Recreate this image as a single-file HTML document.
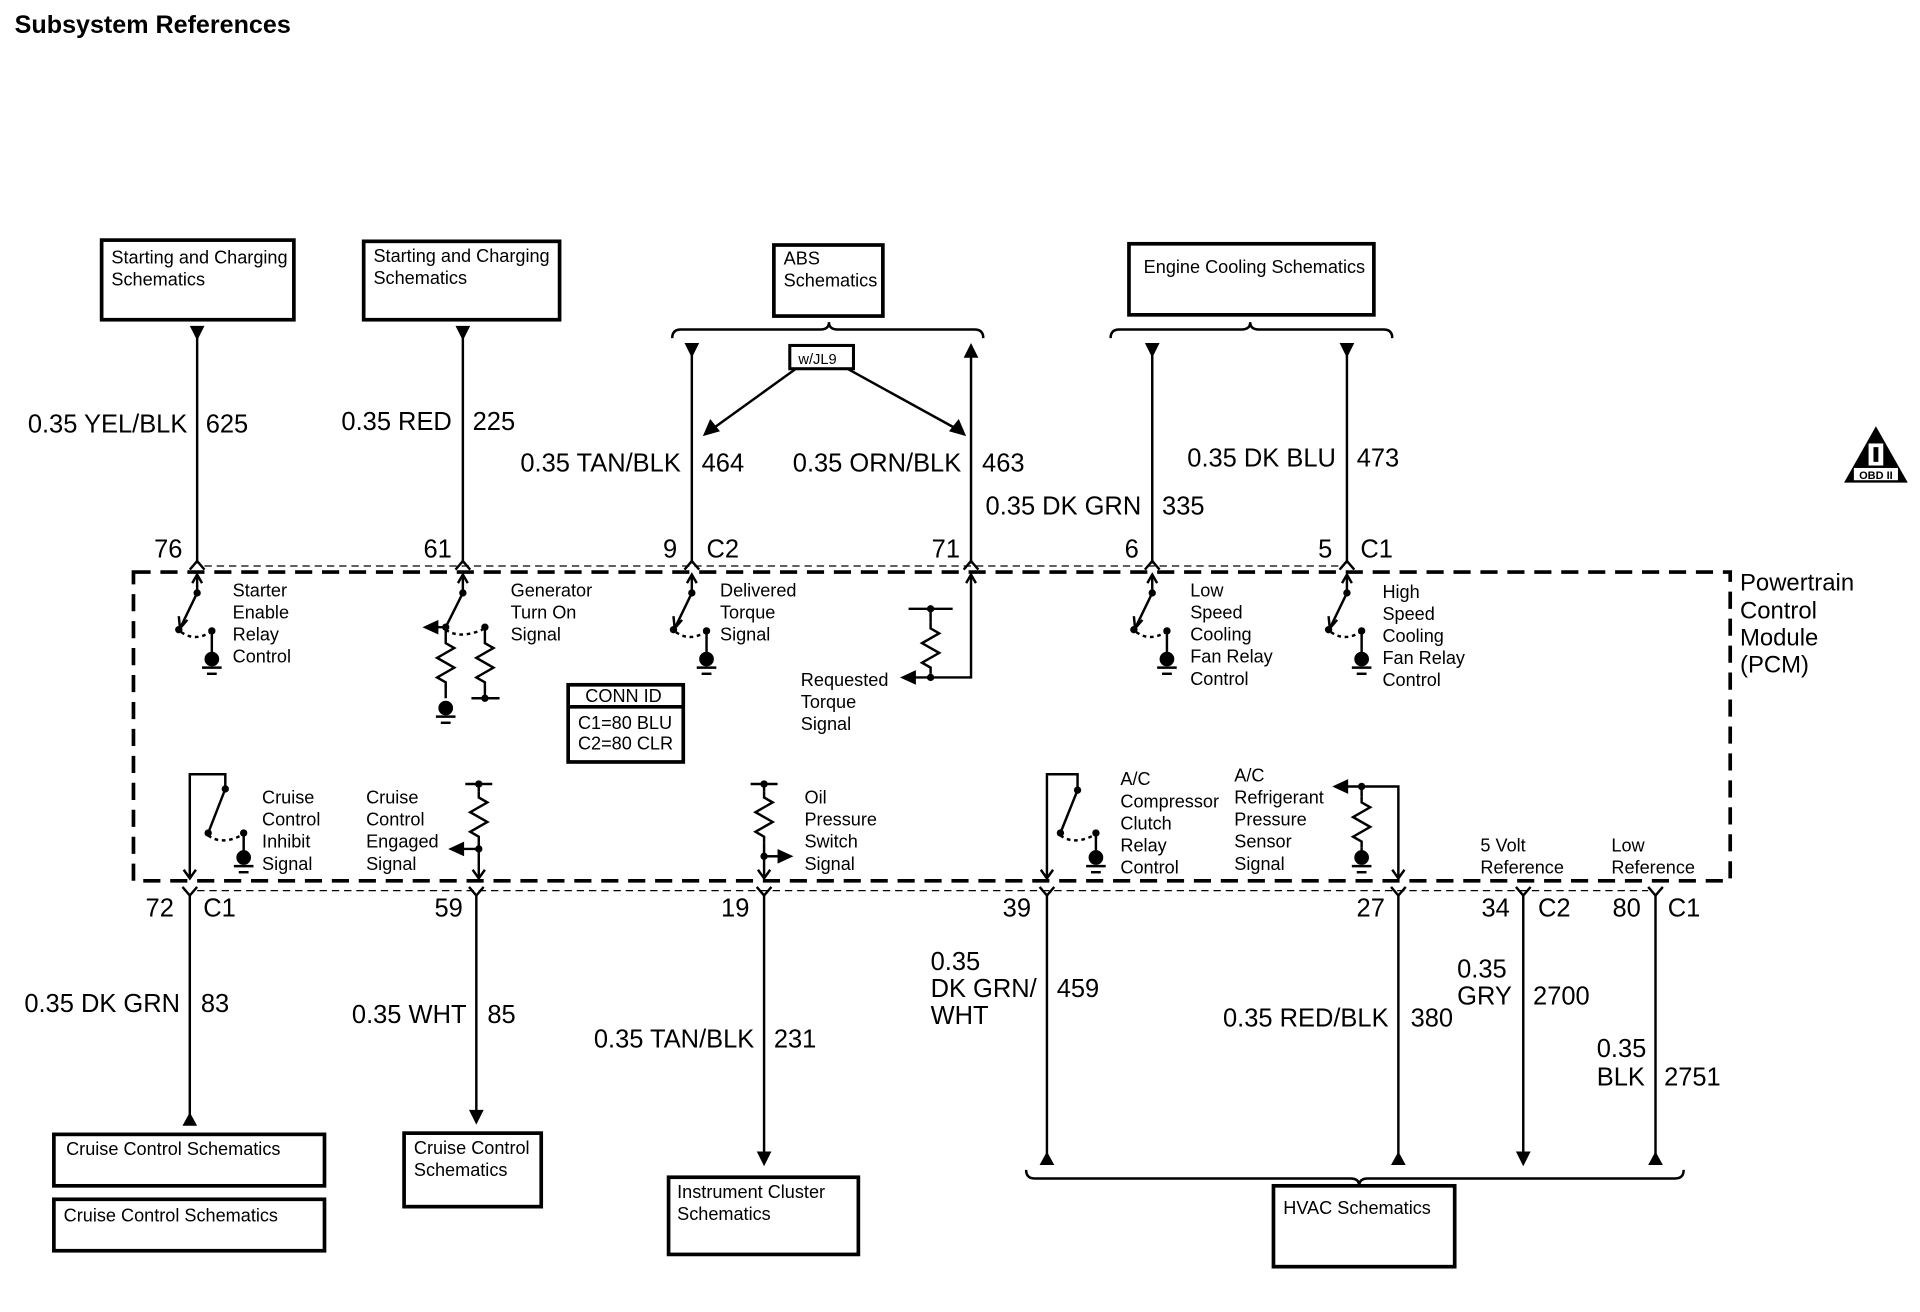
<!DOCTYPE html>
<html><head><meta charset="utf-8"><style>
html,body{margin:0;padding:0;background:#fff}
svg{display:block}
text{font-family:"Liberation Sans",Arial,sans-serif;fill:#000}
.s{font-size:14.8px}
.l{font-size:20.8px}
</style></head><body>
<svg width="1920" height="1312" viewBox="0 0 1568 1071" preserveAspectRatio="none" xmlns="http://www.w3.org/2000/svg">
<defs>
<g id="sw" stroke="#000" stroke-width="2" fill="none">
<polyline points="-4,9 0,2 4,9"/><line x1="0" y1="2" x2="0" y2="17"/>
<line x1="0" y1="17" x2="-14" y2="46"/><polyline points="-15,36 -14,46 -8,39"/>
<path d="M-13,49 Q-2,57 11,49" stroke-dasharray="3,3"/>
<line x1="12" y1="48" x2="12" y2="66"/>
<circle cx="0" cy="17" r="3" fill="#000" stroke="none"/>
<circle cx="-15" cy="47" r="3" fill="#000" stroke="none"/>
<circle cx="12" cy="48" r="3" fill="#000" stroke="none"/>
<circle cx="12" cy="71" r="6" fill="#000" stroke="none"/>
<line x1="4" y1="78" x2="20" y2="78"/><line x1="8" y1="83" x2="16" y2="83"/>
</g>
<path id="rz" d="M0,0 l0,5 l7,4 l-14,8 l14,8 l-14,8 l7,4 l0,5" stroke="#000" stroke-width="2" fill="none"/>
<g id="gnd" stroke="#000" stroke-width="2"><circle cx="0" cy="0" r="6" fill="#000" stroke="none"/><line x1="-8" y1="7" x2="8" y2="7"/><line x1="-4" y1="12" x2="4" y2="12"/></g>
</defs>

<text x="12" y="27" style="font-size:20.5px;font-weight:bold">Subsystem References</text>

<g fill="none" stroke="#000" stroke-width="3">
<rect x="83" y="196" width="157" height="65"/>
<rect x="297" y="197" width="160" height="64"/>
<rect x="632" y="200" width="89" height="58"/>
<rect x="922" y="199" width="200" height="58"/>
<rect x="44" y="926" width="221" height="42"/>
<rect x="44" y="979" width="221" height="42"/>
<rect x="330" y="925" width="112" height="60"/>
<rect x="546" y="961" width="155" height="63"/>
<rect x="1040" y="968" width="148" height="66"/>
<rect x="464" y="559" width="94" height="63"/>
<line x1="464" y1="577" x2="558" y2="577"/>
<rect x="645" y="282" width="52" height="19" stroke-width="2.5"/>
</g>
<g class="s">
<text x="91" y="215">Starting and Charging</text><text x="91" y="233">Schematics</text>
<text x="305" y="214">Starting and Charging</text><text x="305" y="232">Schematics</text>
<text x="640" y="216">ABS</text><text x="640" y="234">Schematics</text>
<text x="934" y="223">Engine Cooling Schematics</text>
<text x="54" y="943">Cruise Control Schematics</text>
<text x="52" y="997">Cruise Control Schematics</text>
<text x="338" y="942">Cruise Control</text><text x="338" y="960">Schematics</text>
<text x="553" y="978">Instrument Cluster</text><text x="553" y="996">Schematics</text>
<text x="1048" y="991">HVAC Schematics</text>
<text x="478" y="573">CONN ID</text><text x="472" y="595">C1=80 BLU</text><text x="472" y="612">C2=80 CLR</text>
<text x="652" y="297" style="font-size:12px">w/JL9</text>
</g>

<g fill="none" stroke="#000" stroke-width="2">
<path d="M549,276 Q549,269 556,269 L670,269 Q677,269 677,263 Q677,269 684,269 L796,269 Q803,269 803,276"/>
<path d="M907,276 Q907,269 914,269 L1014,269 Q1021,269 1021,263 Q1021,269 1028,269 L1130,269 Q1137,269 1137,276"/>
<path d="M838,955 Q838,962 845,962 L1103,962 Q1110,962 1110,968 Q1110,962 1117,962 L1368,962 Q1375,962 1375,955"/>
<line x1="650" y1="301" x2="582" y2="350"/><line x1="692" y1="301" x2="781" y2="350"/>
</g>
<polygon points="574,356 580,342 588,352" fill="#000"/>
<polygon points="789,356 775,352 783,342" fill="#000"/>

<g stroke="#000" stroke-width="2" fill="none">
<line x1="161" y1="268" x2="161" y2="460"/>
<line x1="378" y1="268" x2="378" y2="460"/>
<line x1="565" y1="282" x2="565" y2="460"/>
<line x1="793" y1="282" x2="793" y2="460"/>
<line x1="941" y1="282" x2="941" y2="460"/>
<line x1="1100" y1="282" x2="1100" y2="460"/>
<polyline points="155,465 161,458 167,465"/>
<polyline points="372,465 378,458 384,465"/>
<polyline points="559,465 565,458 571,465"/>
<polyline points="787,465 793,458 799,465"/>
<polyline points="935,465 941,458 947,465"/>
<polyline points="1094,465 1100,458 1106,465"/>
<line x1="167" y1="462" x2="1094" y2="462" stroke-width="1" stroke-dasharray="6,4"/>
<line x1="155" y1="731" x2="155" y2="915"/>
<line x1="389" y1="731" x2="389" y2="910"/>
<line x1="624" y1="731" x2="624" y2="943"/>
<line x1="855" y1="731" x2="855" y2="945"/>
<line x1="1142" y1="731" x2="1142" y2="945"/>
<line x1="1244" y1="731" x2="1244" y2="943"/>
<line x1="1352" y1="731" x2="1352" y2="945"/>
<polyline points="149,724 155,731 161,724"/>
<polyline points="383,724 389,731 395,724"/>
<polyline points="618,724 624,731 630,724"/>
<polyline points="849,724 855,731 861,724"/>
<polyline points="1136,724 1142,731 1148,724"/>
<polyline points="1238,724 1244,731 1250,724"/>
<polyline points="1346,724 1352,731 1358,724"/>
<line x1="161" y1="727" x2="1346" y2="727" stroke-width="1" stroke-dasharray="6,4"/>
<rect x="109" y="467" width="1304" height="252" stroke-width="3" stroke-dasharray="14,8"/>
</g>
<g fill="#000">
<polygon points="155,266 167,266 161,278"/>
<polygon points="372,266 384,266 378,278"/>
<polygon points="559,280 571,280 565,292"/>
<polygon points="787,292 799,292 793,280"/>
<polygon points="935,280 947,280 941,292"/>
<polygon points="1094,280 1106,280 1100,292"/>
<polygon points="149,919 161,919 155,908"/>
<polygon points="383,906 395,906 389,918"/>
<polygon points="618,940 630,940 624,952"/>
<polygon points="849,951 861,951 855,940"/>
<polygon points="1136,951 1148,951 1142,940"/>
<polygon points="1238,940 1250,940 1244,952"/>
<polygon points="1346,951 1358,951 1352,940"/>
</g>

<g class="l">
<text x="153" y="353" text-anchor="end">0.35 YEL/BLK</text><text x="168" y="353">625</text>
<text x="369" y="351" text-anchor="end">0.35 RED</text><text x="386" y="351">225</text>
<text x="556" y="385" text-anchor="end">0.35 TAN/BLK</text><text x="573" y="385">464</text>
<text x="785" y="385" text-anchor="end">0.35 ORN/BLK</text><text x="802" y="385">463</text>
<text x="932" y="420" text-anchor="end">0.35 DK GRN</text><text x="949" y="420">335</text>
<text x="1091" y="381" text-anchor="end">0.35 DK BLU</text><text x="1108" y="381">473</text>
<text x="149" y="455" text-anchor="end">76</text>
<text x="369" y="455" text-anchor="end">61</text>
<text x="553" y="455" text-anchor="end">9</text><text x="577" y="455">C2</text>
<text x="784" y="455" text-anchor="end">71</text>
<text x="930" y="455" text-anchor="end">6</text>
<text x="1088" y="455" text-anchor="end">5</text><text x="1111" y="455">C1</text>
<text x="142" y="748" text-anchor="end">72</text><text x="166" y="748">C1</text>
<text x="378" y="748" text-anchor="end">59</text>
<text x="612" y="748" text-anchor="end">19</text>
<text x="842" y="748" text-anchor="end">39</text>
<text x="1131" y="748" text-anchor="end">27</text>
<text x="1233" y="748" text-anchor="end">34</text><text x="1256" y="748">C2</text>
<text x="1340" y="748" text-anchor="end">80</text><text x="1362" y="748">C1</text>
<text x="147" y="826" text-anchor="end">0.35 DK GRN</text><text x="164" y="826">83</text>
<text x="381" y="835" text-anchor="end">0.35 WHT</text><text x="398" y="835">85</text>
<text x="616" y="855" text-anchor="end">0.35 TAN/BLK</text><text x="632" y="855">231</text>
<text x="760" y="792">0.35</text><text x="760" y="814">DK GRN/</text><text x="760" y="836">WHT</text><text x="863" y="814">459</text>
<text x="1134" y="838" text-anchor="end">0.35 RED/BLK</text><text x="1152" y="838">380</text>
<text x="1190" y="798">0.35</text><text x="1190" y="820">GRY</text><text x="1252" y="820">2700</text>
<text x="1304" y="863">0.35</text><text x="1304" y="886">BLK</text><text x="1359" y="886">2751</text>
</g>
<g style="font-size:19.5px">
<text x="1421" y="482">Powertrain</text><text x="1421" y="505">Control</text><text x="1421" y="527">Module</text><text x="1421" y="549">(PCM)</text>
</g>

<polygon points="1532,348 1506,394 1558,394" fill="#000"/>
<rect x="1526" y="362" width="12" height="18" fill="#fff"/><rect x="1530" y="365" width="4" height="12" fill="#000"/>
<rect x="1514" y="382" width="36" height="10" fill="#fff"/>
<text x="1532" y="391" text-anchor="middle" style="font-size:9px;font-weight:bold">OBD II</text>

<use href="#sw" x="161" y="467"/>
<use href="#sw" x="565" y="467"/>
<use href="#sw" x="941" y="467"/>
<use href="#sw" x="1100" y="467"/>
<g stroke="#000" stroke-width="2" fill="none">
<polyline points="374,476 378,469 382,476"/><line x1="378" y1="469" x2="378" y2="484"/><line x1="378" y1="484" x2="364" y2="512"/>
<line x1="348" y1="512" x2="364" y2="512"/>
<path d="M364,514 Q375,522 394,514" stroke-dasharray="3,3"/>
<line x1="364" y1="512" x2="364" y2="520"/><line x1="364" y1="562" x2="364" y2="570"/>
<line x1="396" y1="512" x2="396" y2="520"/><line x1="396" y1="562" x2="396" y2="570"/>
<line x1="385" y1="570" x2="408" y2="570"/>
<polyline points="789,476 793,469 797,476"/><polyline points="793,469 793,553 760,553"/><line x1="760" y1="553" x2="745" y2="553"/>
<line x1="760" y1="497" x2="760" y2="508"/><line x1="760" y1="550" x2="760" y2="553"/>
<line x1="742" y1="497" x2="778" y2="497"/>
<polyline points="155,717 155,632 184,632 184,644 170,680"/>
<path d="M170,682 Q181,690 197,682" stroke-dasharray="3,3"/>
<line x1="199" y1="680" x2="199" y2="696"/>
<polyline points="150,710 155,717 160,710"/>
<line x1="380" y1="640" x2="402" y2="640"/><line x1="391" y1="640" x2="391" y2="646"/><line x1="391" y1="688" x2="391" y2="717"/>
<line x1="391" y1="693" x2="378" y2="693"/><polyline points="386,710 391,717 396,710"/>
<line x1="613" y1="640" x2="635" y2="640"/><line x1="624" y1="640" x2="624" y2="646"/><line x1="624" y1="688" x2="624" y2="717"/>
<line x1="624" y1="699" x2="636" y2="699"/><polyline points="619,710 624,717 629,710"/>
<polyline points="855,717 855,632 880,632 880,645 866,680"/>
<path d="M866,682 Q877,690 893,682" stroke-dasharray="3,3"/>
<line x1="895" y1="680" x2="895" y2="696"/>
<polyline points="850,710 855,717 860,710"/>
<polyline points="1142,717 1142,642 1100,642"/>
<line x1="1112" y1="642" x2="1112" y2="650"/><line x1="1112" y1="692" x2="1112" y2="696"/>
<polyline points="1137,710 1142,717 1147,710"/>
</g>
<use href="#rz" x="364" y="520"/><use href="#rz" x="396" y="520"/>
<use href="#rz" x="760" y="508"/>
<use href="#rz" x="391" y="646"/><use href="#rz" x="624" y="646"/>
<use href="#rz" x="1112" y="650"/>
<use href="#gnd" x="364" y="578"/>
<use href="#gnd" x="199" y="700"/>
<use href="#gnd" x="895" y="700"/>
<use href="#gnd" x="1112" y="700"/>
<g fill="#000">
<circle cx="378" cy="484" r="3"/><circle cx="364" cy="512" r="3"/><circle cx="396" cy="512" r="3"/><circle cx="396" cy="570" r="3"/>
<polygon points="345,512 358,506 358,518"/>
<circle cx="760" cy="497" r="3"/><circle cx="760" cy="553" r="3"/><polygon points="735,553 748,547 748,559"/>
<circle cx="184" cy="644" r="3"/><circle cx="170" cy="680" r="3"/><circle cx="199" cy="680" r="3"/>
<circle cx="391" cy="640" r="3"/><circle cx="391" cy="693" r="3"/><polygon points="366,693 379,687 379,699"/>
<circle cx="624" cy="640" r="3"/><circle cx="624" cy="699" r="3"/><polygon points="648,699 635,693 635,705"/>
<circle cx="880" cy="645" r="3"/><circle cx="866" cy="680" r="3"/><circle cx="895" cy="680" r="3"/>
<circle cx="1112" cy="642" r="3"/><polygon points="1088,642 1101,636 1101,648"/>
</g>

<g class="s">
<text x="190" y="487">Starter</text><text x="190" y="505">Enable</text><text x="190" y="523">Relay</text><text x="190" y="541">Control</text>
<text x="417" y="487">Generator</text><text x="417" y="505">Turn On</text><text x="417" y="523">Signal</text>
<text x="588" y="487">Delivered</text><text x="588" y="505">Torque</text><text x="588" y="523">Signal</text>
<text x="654" y="560">Requested</text><text x="654" y="578">Torque</text><text x="654" y="596">Signal</text>
<text x="972" y="487">Low</text><text x="972" y="505">Speed</text><text x="972" y="523">Cooling</text><text x="972" y="541">Fan Relay</text><text x="972" y="559">Control</text>
<text x="1129" y="488">High</text><text x="1129" y="506">Speed</text><text x="1129" y="524">Cooling</text><text x="1129" y="542">Fan Relay</text><text x="1129" y="560">Control</text>
<text x="214" y="656">Cruise</text><text x="214" y="674">Control</text><text x="214" y="692">Inhibit</text><text x="214" y="710">Signal</text>
<text x="299" y="656">Cruise</text><text x="299" y="674">Control</text><text x="299" y="692">Engaged</text><text x="299" y="710">Signal</text>
<text x="657" y="656">Oil</text><text x="657" y="674">Pressure</text><text x="657" y="692">Switch</text><text x="657" y="710">Signal</text>
<text x="915" y="641">A/C</text><text x="915" y="659">Compressor</text><text x="915" y="677">Clutch</text><text x="915" y="695">Relay</text><text x="915" y="713">Control</text>
<text x="1008" y="638">A/C</text><text x="1008" y="656">Refrigerant</text><text x="1008" y="674">Pressure</text><text x="1008" y="692">Sensor</text><text x="1008" y="710">Signal</text>
<text x="1209" y="695">5 Volt</text><text x="1209" y="713">Reference</text>
<text x="1316" y="695">Low</text><text x="1316" y="713">Reference</text>
</g>
</svg>
</body></html>
